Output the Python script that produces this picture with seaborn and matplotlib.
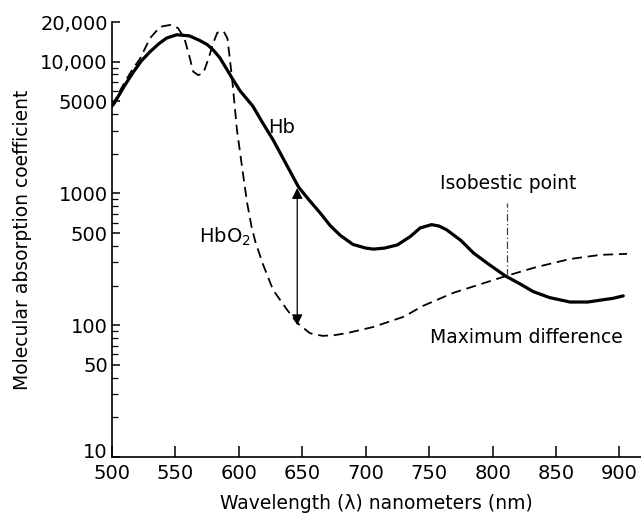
import matplotlib
matplotlib.use("Agg")
import matplotlib.pyplot as plt
import matplotlib.transforms as mtransforms
import numpy as np
import pandas as pd
import seaborn as sns

# ---- data ----
hb_nm = [500, 502, 510, 517, 523, 530, 537, 543, 551, 561, 569, 575, 580, 585,
         591, 595, 601, 611, 619, 627, 637, 647, 655, 664, 672, 680, 690, 700,
         706, 715, 725, 735, 743, 752, 758, 764, 775, 785, 797, 810, 822, 832,
         845, 861, 875, 887, 895, 903]
hb_val = [4600, 4880, 6600, 8380, 10100, 11900, 13700, 15100, 16000, 15700,
          14500, 13500, 12200, 10700, 8600, 7400, 6000, 4600, 3400, 2550, 1690,
          1120, 900, 713, 570, 480, 410, 385, 378, 385, 407, 470, 548, 580,
          565, 528, 440, 353, 290, 237, 205, 180, 162, 150, 150, 156, 160, 167]

hbo2_nm = [500, 505, 510, 517, 522, 530, 538, 546, 552, 557, 561, 564, 568,
           572, 576, 580, 583, 588, 591, 593, 595, 598.5, 602.5, 606.5, 610,
           613, 619, 627, 638, 646, 656, 666, 675, 685, 706, 730, 745, 769,
           796, 811, 835, 861, 885, 906]
hbo2_val = [4600, 5700, 7000, 9000, 10500, 15100, 18400, 19000, 18000, 15100,
            11000, 8400, 7900, 8200, 10500, 14000, 16600, 17000, 15000, 10300,
            6900, 3040, 1590, 850, 560, 430, 290, 185, 131, 104, 87, 83, 84,
            87, 97, 116, 140, 176, 213, 237, 277, 318, 342, 348]

x_ticks = [500, 550, 600, 650, 700, 750, 800, 850, 900]
y_major = [10, 50, 100, 500, 1000, 5000, 10000, 20000]
y_labels = ["10", "50", "100", "500", "1000", "5000", "10,000", "20,000"]
y_minor = [20, 30, 40, 60, 70, 80, 90, 200, 300, 400, 600, 700, 800, 900,
           2000, 3000, 4000, 6000, 7000, 8000, 9000]

arrow_nm = 646
arrow_lo, arrow_hi = 100, 1100
iso_nm = 811
iso_lo, iso_hi = 237, 850

hb_df = pd.DataFrame({"nm": hb_nm, "val": hb_val})
hbo2_df = pd.DataFrame({"nm": hbo2_nm, "val": hbo2_val})

sns.set_style("ticks")
plt.rcParams["font.family"] = ["DejaVu Sans"]
plt.rcParams["text.color"] = "black"
plt.rcParams["axes.labelcolor"] = "black"

fig = plt.figure(figsize=(6.41, 5.19), dpi=100)
ax = fig.add_axes([112 / 641, 1 - 457 / 519, 1 - 112 / 641, (457 - 22) / 519])

sns.lineplot(data=hb_df, x="nm", y="val", ax=ax, color="black", lw=2.3,
             sort=False, estimator=None)
sns.lineplot(data=hbo2_df, x="nm", y="val", ax=ax, color="black", lw=1.3,
             sort=False, estimator=None)
ax.lines[1].set_dashes((5.5, 3.2))

ax.set_yscale("log")
ax.set_xlim(500, 917)
ax.set_ylim(10, 20000)

ax.set_xticks(x_ticks)
ax.set_xticklabels([str(t) for t in x_ticks])
ax.set_yticks(y_major)
ax.set_yticklabels(y_labels)
ax.set_yticks(y_minor, minor=True)
ax.yaxis.set_minor_formatter(matplotlib.ticker.NullFormatter())
ax.xaxis.set_minor_locator(matplotlib.ticker.NullLocator())

ax.tick_params(axis="x", which="major", direction="in", length=8, width=1.1,
               labelsize=14, pad=5, colors="black")
ax.tick_params(axis="y", which="major", direction="in", length=6, width=1.1,
               labelsize=14, pad=3, colors="black")
ax.tick_params(axis="y", which="minor", direction="in", length=4, width=0.9,
               colors="black")

# lift the bottom "10" label a little, as in the reference
lbl10 = ax.get_yticklabels()[0]
lbl10.set_transform(lbl10.get_transform() +
                    mtransforms.ScaledTranslation(0, 6 / 100, fig.dpi_scale_trans))

for s in ["top", "right"]:
    ax.spines[s].set_visible(False)
for s in ["left", "bottom"]:
    ax.spines[s].set_linewidth(1.2)
    ax.spines[s].set_color("black")

ax.set_xlabel("Wavelength (λ) nanometers (nm)", fontsize=13.5, labelpad=8)
ax.set_ylabel("Molecular absorption coefficient", fontsize=13.5, labelpad=6)

# annotations
ax.annotate("", xy=(arrow_nm, arrow_hi), xytext=(arrow_nm, arrow_lo),
            arrowprops=dict(arrowstyle="<|-|>", color="black", lw=0.9,
                            mutation_scale=16, shrinkA=0, shrinkB=0))
ax.plot([iso_nm, iso_nm], [iso_lo, iso_hi], color="#444444", lw=0.9,
        linestyle=(0, (6, 2, 1, 2)))

ax.text(634, 3150, "Hb", fontsize=14, ha="center", va="center", color="black")
ax.text(589, 468, "HbO$_2$", fontsize=14, ha="center", va="center", color="black")
ax.text(812, 1200, "Isobestic point", fontsize=13.5, ha="center", va="center",
        color="black")
ax.text(751, 80, "Maximum difference", fontsize=13.5, ha="left", va="center",
        color="black")

fig.savefig("out.png", dpi=100)
